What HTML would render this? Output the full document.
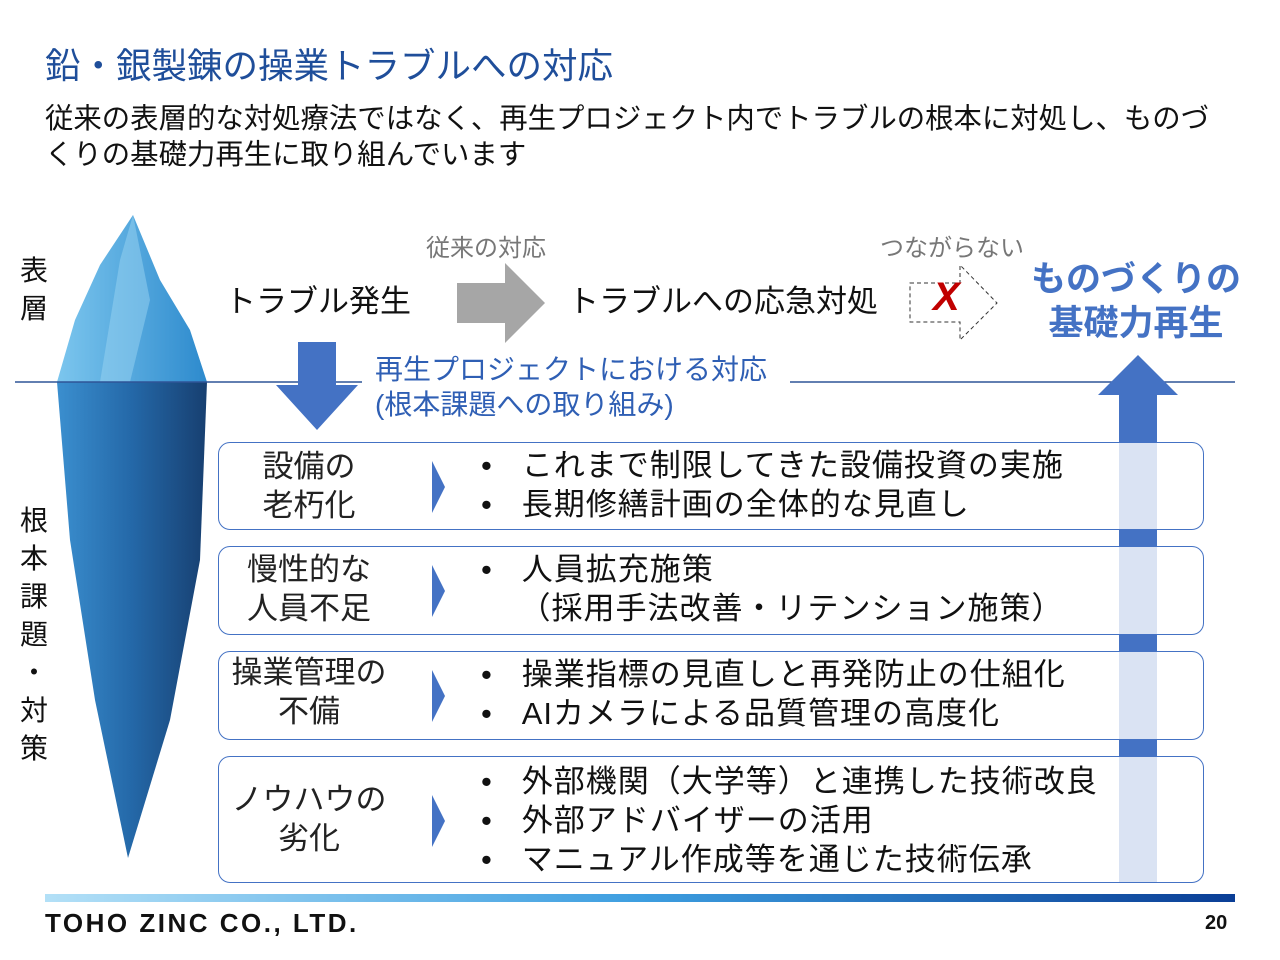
<!DOCTYPE html>
<html><head><meta charset="utf-8"><style>
body{margin:0;width:1280px;height:960px;background:#fff;position:relative;overflow:hidden;font-family:"Liberation Sans","Noto Sans CJK JP",sans-serif;}
.a{position:absolute;white-space:nowrap;}
.box{position:absolute;left:218px;width:986px;border:1.5px solid #4472c4;border-radius:12px;box-sizing:border-box;}
.lab{position:absolute;width:180px;text-align:center;font-size:31px;line-height:39px;color:#222;}
.it{position:absolute;left:262px;font-size:31px;line-height:39px;color:#111;letter-spacing:1px;}
.tri{position:absolute;left:213px;width:0;height:0;border-top:26px solid transparent;border-bottom:26px solid transparent;border-left:13px solid #4472c4;}
</style></head><body>
<div class="a" style="left:45px;top:38px;font-size:35.5px;color:#1f4e9a;">鉛・銀製錬の操業トラブルへの対応</div>
<div class="a" style="left:45px;top:101px;font-size:28.4px;line-height:36px;color:#111;">従来の表層的な対処療法ではなく、再生プロジェクト内でトラブルの根本に対処し、ものづ<br>くりの基礎力再生に取り組んでいます</div>

<svg class="a" style="left:0;top:0" width="1280" height="960">
<defs>
<linearGradient id="g1" x1="0" x2="1"><stop offset="0" stop-color="#7cc6ee"/><stop offset="1" stop-color="#2d8acd"/></linearGradient>
<linearGradient id="g2" x1="0" x2="1"><stop offset="0" stop-color="#3b8fcf"/><stop offset="0.5" stop-color="#2468a8"/><stop offset="1" stop-color="#173f70"/></linearGradient>
<linearGradient id="gb" x1="0" x2="1"><stop offset="0" stop-color="#b3e0f7"/><stop offset="0.5" stop-color="#3d9ee0"/><stop offset="1" stop-color="#0a3e96"/></linearGradient>
</defs>
<polygon points="133,215 160,280 190,330 207,382 57,382 75,320 100,265" fill="url(#g1)"/>
<polygon points="120,260 133,215 150,300 130,382 100,382" fill="#9ad4f2" opacity="0.5"/>
<polygon points="57,382 207,382 200,560 170,720 128,858 95,700 70,540" fill="url(#g2)"/>
<line x1="15" y1="382" x2="362" y2="382" stroke="#2f5597" stroke-width="1.5"/>
<line x1="790" y1="382" x2="1235" y2="382" stroke="#2f5597" stroke-width="1.5"/>
<polygon points="457,283 505,283 505,263 545,303 505,343 505,323 457,323" fill="#a6a6a6"/>
<polygon points="298,342 336,342 336,385 358,385 317,430 276,385 298,385" fill="#4472c4"/>
<polygon points="910,283 960,283 960,265 997,303 960,340 960,322 910,322" fill="none" stroke="#333" stroke-dasharray="4,3"/>
<polygon points="1138,355 1178,395 1157,395 1157,883 1119,883 1119,395 1098,395" fill="#4472c4"/>
<rect x="1119" y="442" width="38" height="441" fill="#dae3f3"/>
<rect x="1119" y="530" width="38" height="16" fill="#4472c4"/>
<rect x="1119" y="635" width="38" height="16" fill="#4472c4"/>
<rect x="1119" y="740" width="38" height="16" fill="#4472c4"/>
<rect x="45" y="894" width="1190" height="8" fill="url(#gb)"/>
</svg>
<div class="a" style="left:933px;top:272px;font-size:40px;font-weight:bold;font-style:italic;color:#c00000;line-height:50px;">X</div>

<div class="a" style="left:20px;top:252px;font-size:28px;line-height:38px;color:#111;">表<br>層</div>
<div class="a" style="left:20px;top:502px;font-size:28px;line-height:38px;color:#111;">根<br>本<br>課<br>題<br>・<br>対<br>策</div>
<div class="a" style="left:426px;top:228px;font-size:24px;color:#777;">従来の対応</div>
<div class="a" style="left:880px;top:228px;font-size:24px;color:#777;">つながらない</div>
<div class="a" style="left:225px;top:276px;font-size:31px;color:#111;">トラブル発生</div>
<div class="a" style="left:568px;top:276px;font-size:31px;color:#111;">トラブルへの応急対処</div>
<div class="a" style="left:1028px;top:258px;font-size:35px;font-weight:bold;color:#4472c4;line-height:44px;text-align:center;width:216px;">ものづくりの<br>基礎力再生</div>
<div class="a" style="left:375px;top:352px;font-size:28px;line-height:35px;color:#2f5fb4;">再生プロジェクトにおける対応<br>(根本課題への取り組み)</div>

<div class="box" style="top:442px;height:88px;"><div class="lab" style="left:0;top:4px;">設備の<br>老朽化</div><div class="tri" style="top:18px;"></div><div class="it" style="top:3px;">•&nbsp;&nbsp;&nbsp;これまで制限してきた設備投資の実施<br>•&nbsp;&nbsp;&nbsp;長期修繕計画の全体的な見直し</div></div>
<div class="box" style="top:546px;height:89px;"><div class="lab" style="left:0;top:3px;">慢性的な<br>人員不足</div><div class="tri" style="top:18px;"></div><div class="it" style="top:3px;">•&nbsp;&nbsp;&nbsp;人員拡充施策<br>&nbsp;&nbsp;&nbsp;&nbsp;（採用手法改善・リテンション施策）</div></div>
<div class="box" style="top:651px;height:89px;"><div class="lab" style="left:0;top:1px;">操業管理の<br>不備</div><div class="tri" style="top:18px;"></div><div class="it" style="top:3px;">•&nbsp;&nbsp;&nbsp;操業指標の見直しと再発防止の仕組化<br>•&nbsp;&nbsp;&nbsp;AIカメラによる品質管理の高度化</div></div>
<div class="box" style="top:756px;height:127px;"><div class="lab" style="left:0;top:23px;">ノウハウの<br>劣化</div><div class="tri" style="top:38px;"></div><div class="it" style="top:5px;">•&nbsp;&nbsp;&nbsp;外部機関（大学等）と連携した技術改良<br>•&nbsp;&nbsp;&nbsp;外部アドバイザーの活用<br>•&nbsp;&nbsp;&nbsp;マニュアル作成等を通じた技術伝承</div></div>

<div class="a" style="left:45px;top:908px;font-size:26px;font-weight:900;color:#111;letter-spacing:2.5px;">TOHO ZINC CO., LTD.</div>
<div class="a" style="left:1205px;top:912px;font-size:20px;font-weight:bold;color:#111;">20</div>
</body></html>
